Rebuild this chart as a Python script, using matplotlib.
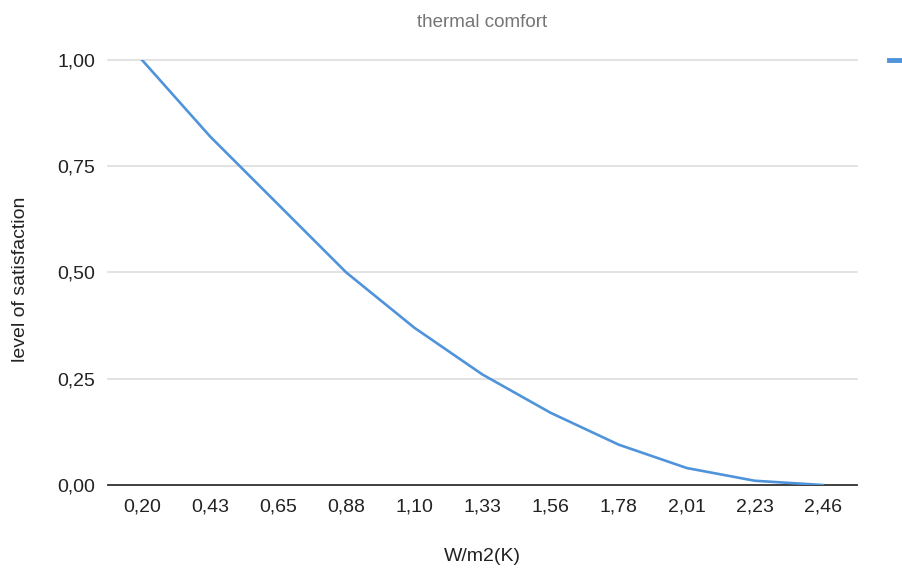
import matplotlib
matplotlib.use('Agg')
import matplotlib.pyplot as plt
from matplotlib.lines import Line2D

# datos
categorias = ['0,20', '0,43', '0,65', '0,88', '1,10', '1,33', '1,56', '1,78', '2,01', '2,23', '2,46']
satisfaccion = [1.00, 0.82, 0.66, 0.50, 0.37, 0.26, 0.17, 0.095, 0.04, 0.01, 0.00]
y_ticks = [0, 0.25, 0.5, 0.75, 1.0]
y_labels = ['0,00', '0,25', '0,50', '0,75', '1,00']

plt.rcParams['font.family'] = ['Liberation Sans', 'DejaVu Sans']

fig = plt.figure(figsize=(9.02, 5.71), dpi=100)
ax = fig.add_axes([0.1197, 0.1506, 0.8303, 0.7444])

ax.plot(range(len(categorias)), satisfaccion, color='#4f94db', linewidth=1.9, zorder=4)

ax.set_xlim(-0.5, len(categorias) - 0.5)
ax.set_ylim(0, 1.0)
ax.set_xticks(range(len(categorias)))
ax.set_xticklabels(categorias)
ax.set_yticks(y_ticks)
ax.set_yticklabels(y_labels)
ax.tick_params(axis='both', length=0, labelsize=14, colors='#222222')
ax.tick_params(axis='x', pad=10)
ax.tick_params(axis='y', pad=9)

# cuadricula
ax.grid(axis='y', color='#dddddd', linewidth=1.2)
for gl in ax.get_ygridlines():
    gl.set_clip_on(False)
ax.set_axisbelow(True)
for s in ['top', 'right', 'left']:
    ax.spines[s].set_visible(False)
ax.spines['bottom'].set_color('#333333')
ax.spines['bottom'].set_linewidth(1.3)
ax.spines['bottom'].set_zorder(3)

ax.set_title('thermal comfort', fontsize=13.5, color='#757575', pad=24)
ax.set_ylabel('level of satisfaction', fontsize=14, color='#222222')
ax.yaxis.set_label_coords(-0.105, 0.485)
ax.set_xlabel('W/m2(K)', fontsize=14, color='#222222', labelpad=23)

# marca de leyenda recortada en el borde derecho
fig.add_artist(Line2D([889 / 902, 1.0], [1 - 60 / 571, 1 - 60 / 571],
                      transform=fig.transFigure, color='#4f94db', linewidth=3.5))

fig.savefig('out.png', dpi=100)
